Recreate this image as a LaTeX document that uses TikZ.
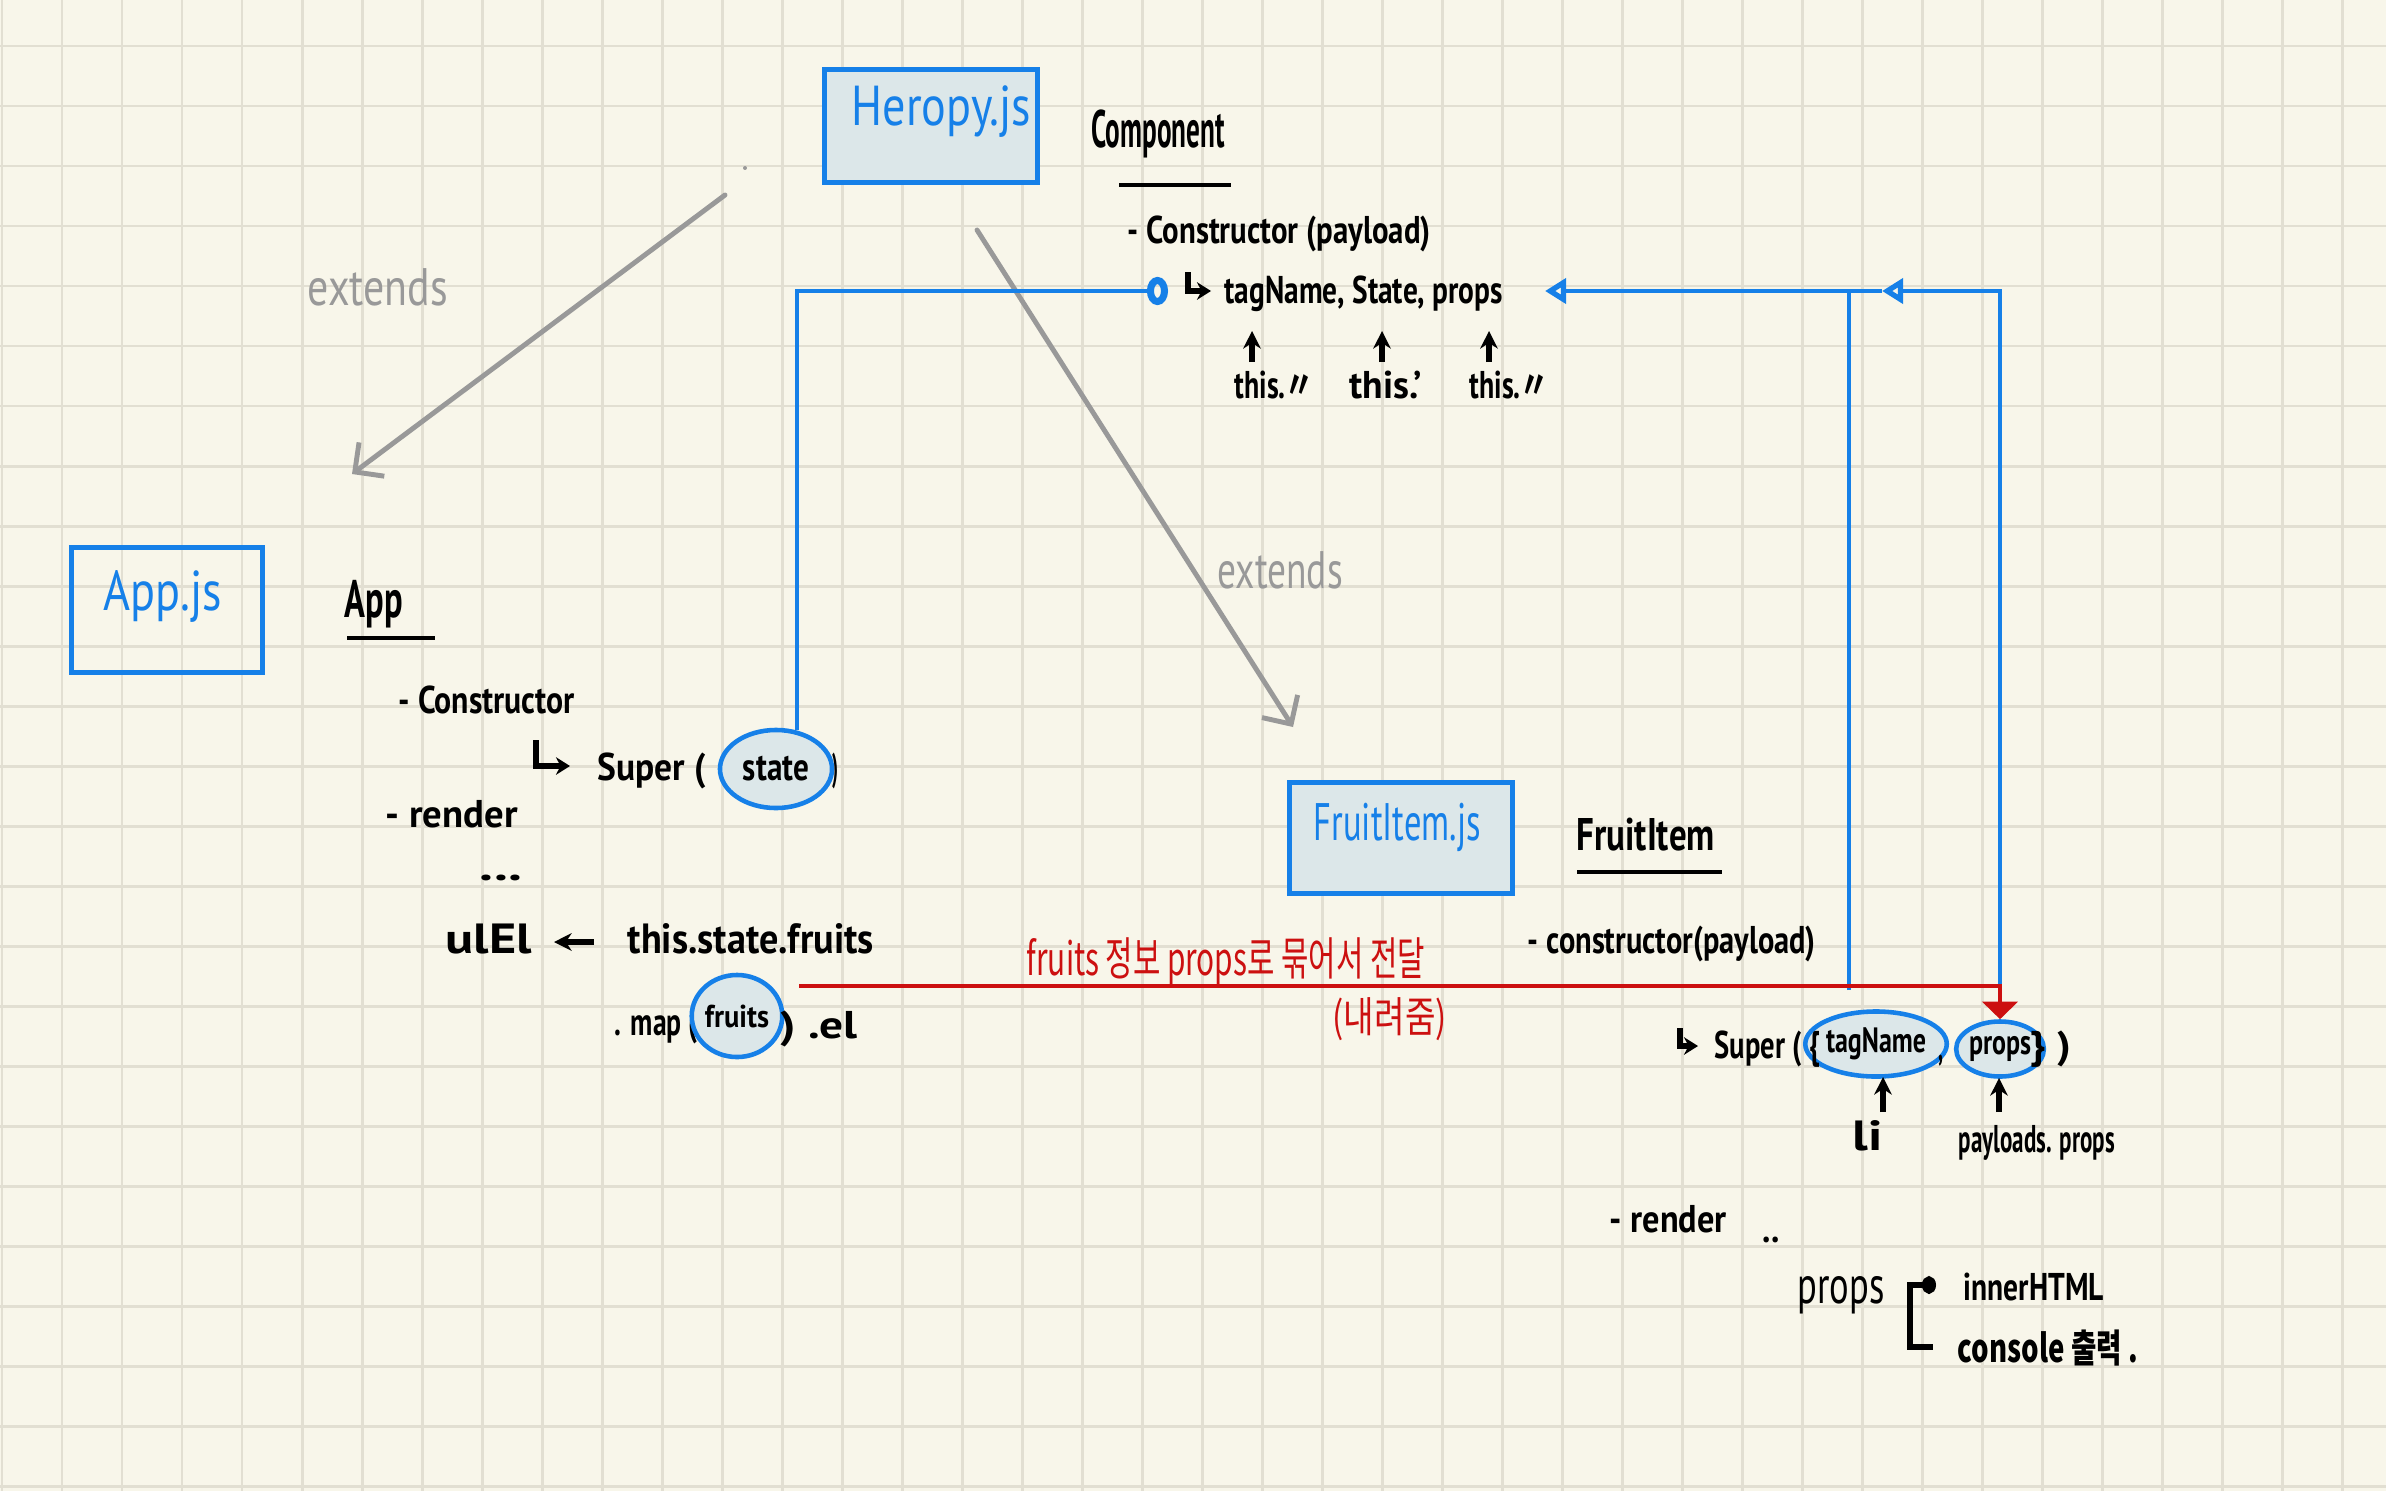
\documentclass[tikz,border=0pt]{standalone}
\usepackage{fontspec}
\usepackage{graphicx}
\setmainfont{PT Sans}
\newfontfamily\kr{Noto Sans CJK KR}
\usetikzlibrary{arrows.meta,shapes.geometric}
\definecolor{paper}{RGB}{248,246,234}
\definecolor{gridc}{RGB}{226,223,210}
\definecolor{hblue}{RGB}{22,128,232}
\definecolor{hfill}{RGB}{220,231,233}
\definecolor{hred}{RGB}{204,16,16}
\definecolor{hgray}{RGB}{153,153,153}
\newcommand\hw[3]{\resizebox{#1}{\height}{\fontsize{#2}{#2}\selectfont #3}}
\tikzset{
  txt/.style={inner sep=0pt, anchor=base west, text=black, font=\bfseries},
  btxt/.style={txt, text=hblue, font=\normalfont},
  gtxt/.style={txt, text=hgray, font=\normalfont},
  rtxt/.style={txt, text=hred, font=\normalfont},
  filebox/.style={draw=hblue, line width=1.4pt, inner sep=0pt, anchor=north west},
  oval/.style={ellipse, draw=hblue, line width=1.3pt, fill=hfill, inner sep=0pt, font=\bfseries},
  bluelink/.style={draw=hblue, line width=1.15pt},
  redlink/.style={draw=hred, line width=1.15pt},
  extarrow/.style={draw=hgray, line width=1.4pt, line cap=round, -{Straight Barb[length=6pt,width=12pt,line width=1.4pt]}},
  uparrow/.style={line width=1.8pt, -{Stealth[length=5pt,width=5pt]}},
  hookarrow/.style={line width=1.6pt, -{Stealth[length=4pt,width=5pt]}},
  uline/.style={line width=1.1pt},
  gridline/.style={draw=gridc, line width=0.85pt}
}
\begin{document}
\begin{tikzpicture}[x=0.01cm,y=-0.01cm]
\useasboundingbox (0,0) rectangle (2386,1491);
\fill[paper] (0,0) rectangle (2386,1491);
\foreach \x in {2,62,...,2386} \draw[gridline] (\x,0) -- (\x,1491);
\foreach \y in {46,106,...,1491} \draw[gridline] (0,\y) -- (2386,\y);

% ---------- Heropy.js / Component ----------
\node[filebox, fill=hfill, minimum width=2.13cm, minimum height=1.13cm] (heropy) at (822,67) {};
\node[btxt] (heropyT) at (851,126) {\hw{1.79cm}{16pt}{Heropy.js}};
\node[txt] (comp) at (1091,147) {\hw{1.33cm}{15pt}{Component}};
\draw[uline] (1119,185) -- (1231,185);
\node[txt] (compCtor) at (1127,243) {\hw{3.03cm}{11pt}{- Constructor (payload)}};
\draw[hookarrow] (1188,272) -- (1188,291) -- (1211,291);
\node[txt] (tsp) at (1224,303) {\hw{2.78cm}{11pt}{tagName, State, props}};
\node[txt] (this1) at (1234,398) {\hw{0.79cm}{11pt}{this.{\kr 〃}}};
\node[txt] (this2) at (1349,398) {\hw{0.72cm}{11pt}{this.\textquoteright}};
\node[txt] (this3) at (1469,398) {\hw{0.79cm}{11pt}{this.{\kr 〃}}};
\draw[uparrow] (1252,362) -- (1252,331);
\draw[uparrow] (1382,362) -- (1382,331);
\draw[uparrow] (1489,362) -- (1489,331);

% ---------- extends arrows ----------
\fill[hgray] (745,168) circle (2);
\coordinate (hs1) at (725,195);
\coordinate (hd1) at (352,474);
\coordinate (hs2) at (977,230);
\coordinate (hd2) at (1293,727);
\draw[extarrow] (hs1) -- (hd1);
\draw[extarrow] (hs2) -- (hd2);
\node[gtxt] (ext1) at (307,305) {\hw{1.40cm}{15pt}{extends}};
\node[gtxt] (ext2) at (1217,588) {\hw{1.25cm}{15pt}{extends}};

% ---------- App.js ----------
\node[filebox, minimum width=1.91cm, minimum height=1.25cm] (appbox) at (69,545) {};
\node[btxt] (appT) at (103,610) {\hw{1.18cm}{16pt}{App.js}};
\node[txt] (appN) at (344,617) {\hw{0.58cm}{15pt}{App}};
\draw[uline] (347,638) -- (435,638);
\node[txt] (appCtor) at (398,713) {\hw{1.76cm}{11pt}{- Constructor}};
\draw[hookarrow] (536,740) -- (536,766) -- (570,766);
\node[txt] (appSuper) at (597,780) {\hw{1.08cm}{11pt}{Super (}};
\node[oval, minimum width=1.12cm, minimum height=0.78cm] (state) at (776,769) {\hw{0.66cm}{11pt}{state}};
\node[txt] (appClose) at (832,780) {\hw{0.06cm}{11pt}{)}};
\node[txt] (appRender) at (385,827) {\hw{1.32cm}{11pt}{- render}};
\node[txt] (appDots) at (479,880) {\hw{0.43cm}{11pt}{...}};
\node[txt] (ulEl) at (445,953) {\hw{0.86cm}{12pt}{ulEl}};
\draw[uparrow] (594,942) -- (554,942);
\node[txt] (tsf) at (627,953) {\hw{2.46cm}{12pt}{this.state.fruits}};
\node[txt] (map) at (614,1035) {\hw{0.83cm}{11pt}{. map (}};
\node[oval, minimum width=0.80cm, minimum height=0.82cm] (fruits) at (737,1016) {\hw{0.64cm}{9pt}{fruits}};
\node[txt] (mapEnd) at (780,1038) {\hw{0.77cm}{11pt}{) .el}};

% ---------- FruitItem.js ----------
\node[filebox, fill=hfill, minimum width=2.23cm, minimum height=1.11cm] (fruitbox) at (1287,780) {};
\node[btxt] (fruitT) at (1313,840) {\hw{1.67cm}{15pt}{FruitItem.js}};
\node[txt] (fiN) at (1576,850) {\hw{1.38cm}{13pt}{FruitItem}};
\draw[uline] (1577,872) -- (1722,872);
\node[txt] (fiCtor) at (1527,953) {\hw{2.88cm}{11pt}{- constructor(payload)}};
\draw[hookarrow] (1680,1028) -- (1680,1046) -- (1698,1046);
\node[oval, minimum width=1.28cm, minimum height=0.65cm] (tagname) at (1876,1044) {\hw{1.0cm}{10pt}{tagName}};
\node[oval, minimum width=0.85cm, minimum height=0.55cm] (props) at (2000,1049) {\hw{0.62cm}{10pt}{props}};
\node[txt] (fiSuper) at (1714,1058) {\hw{1.05cm}{11pt}{Super ( \{}};
\node[txt] (comma) at (1938,1060) {\hw{0.05cm}{11pt}{,}};
\node[txt] (fiClose) at (2030,1058) {\hw{0.40cm}{11pt}{\} )}};
\draw[uparrow] (1883,1112) -- (1883,1077);
\draw[uparrow] (1999,1112) -- (1999,1078);
\node[txt] (li) at (1852,1150) {\hw{0.30cm}{12pt}{li}};
\node[txt] (payT) at (1958,1152) {\hw{1.56cm}{11pt}{payloads. props}};
\node[txt] (fiRender) at (1609,1232) {\hw{1.17cm}{11pt}{- render}};
\node[txt] (fiDots) at (1762,1242) {\hw{0.17cm}{11pt}{..}};
\node[txt, font=\normalfont] (propsT) at (1797,1303) {\hw{0.87cm}{15pt}{props}};
\draw[line width=1.5pt, {Circle[length=4pt,width=5pt]}-] (1936,1285) -- (1910,1285) -- (1910,1347) -- (1933,1347);
\node[txt] (innerT) at (1963,1300) {\hw{1.40cm}{11pt}{innerHTML}};
\node[txt] (consT) at (1957,1362) {\hw{1.80cm}{11pt}{{\kr console 출력 .}}};

% ---------- blue connectors ----------
\coordinate (cin) at (1168,291);
\coordinate (cinR) at (1545,291);
\coordinate (cinR2) at (1882,291);
\coordinate (redstart) at (799,986);
\coordinate (tagup) at (1849,990);
\coordinate (tagcorner) at (tagup |- cinR);
\coordinate (propup) at (props.north |- redstart);
\draw[bluelink, -{Circle[open,length=6pt,width=8pt,line width=2pt]}] (state.62) |- (cin);
\draw[bluelink, -{Triangle[open,length=6pt,width=7pt,line width=1.8pt]}] (tagup) |- (cinR);
\draw[bluelink] (cinR2) -- (tagcorner);
\draw[bluelink, -{Triangle[open,length=6pt,width=7pt,line width=1.8pt]}] (propup) |- (cinR2);

% ---------- red connector ----------
\draw[redlink, -{Triangle[length=5pt,width=10pt]}] (redstart) -| (props.north);
\node[rtxt] (redT) at (1026,975) {\hw{3.98cm}{13pt}{{\kr fruits 정보 props로 묶어서 전달}}};
\node[rtxt] (redT2) at (1332,1032) {\hw{1.14cm}{12pt}{{\kr (내려줌)}}};
\end{tikzpicture}
\end{document}
